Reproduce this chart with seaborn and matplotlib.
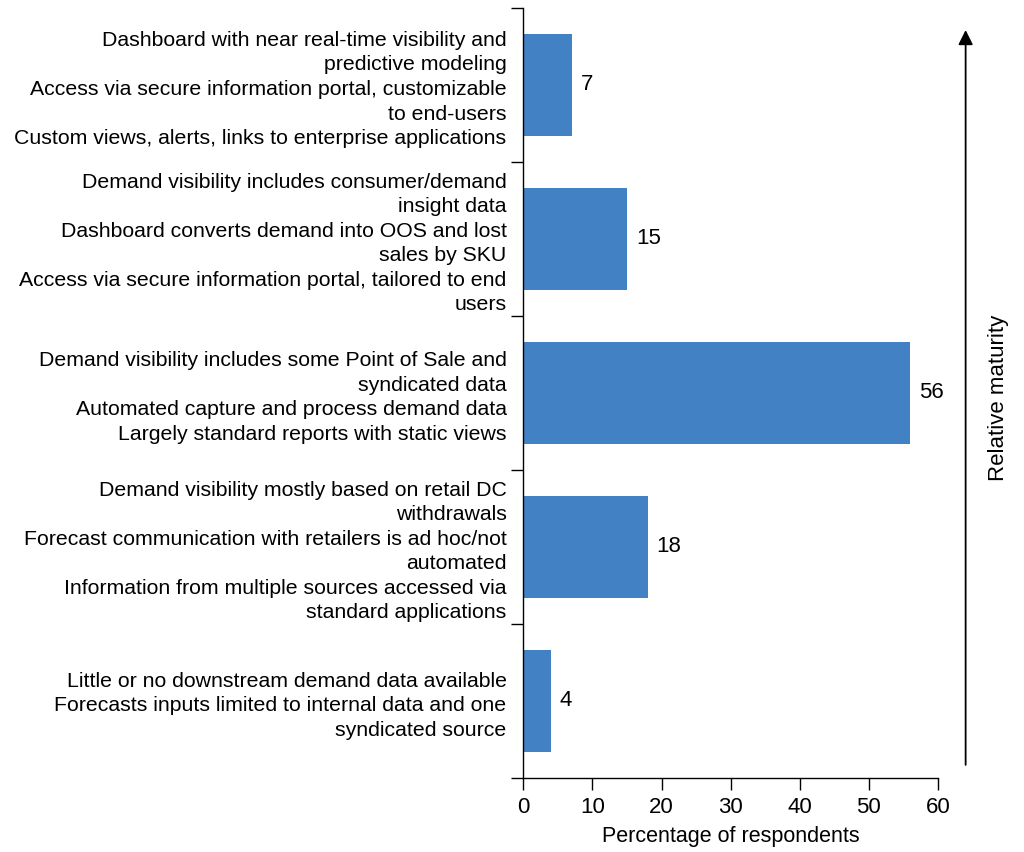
import matplotlib
matplotlib.use("Agg")
import matplotlib.pyplot as plt
import seaborn as sns
import pandas as pd

# data, top to bottom
categories = [
    "Dashboard with near real-time visibility and\npredictive modeling\n"
    "Access via secure information portal, customizable\nto end-users\n"
    "Custom views, alerts, links to enterprise applications",
    "Demand visibility includes consumer/demand\ninsight data\n"
    "Dashboard converts demand into OOS and lost\nsales by SKU\n"
    "Access via secure information portal, tailored to end\nusers",
    "Demand visibility includes some Point of Sale and\nsyndicated data\n"
    "Automated capture and process demand data\n"
    "Largely standard reports with static views",
    "Demand visibility mostly based on retail DC\nwithdrawals\n"
    "Forecast communication with retailers is ad hoc/not\nautomated\n"
    "Information from multiple sources accessed via\nstandard applications",
    "Little or no downstream demand data available\n"
    "Forecasts inputs limited to internal data and one\nsyndicated source",
]
values = [7, 15, 56, 18, 4]
xticks = [0, 10, 20, 30, 40, 50, 60]

df = pd.DataFrame({"category": categories, "value": values})

sns.set_theme(style="ticks")
plt.rcParams["font.family"] = ["Liberation Sans", "DejaVu Sans"]
plt.rcParams["text.color"] = "black"
plt.rcParams["axes.labelcolor"] = "black"
plt.rcParams["xtick.color"] = "black"
plt.rcParams["ytick.color"] = "black"
fs = 15.3
fs_ax = 16

fig = plt.figure(figsize=(10.24, 8.52), dpi=100)
ax = fig.add_axes([0.511, 0.087, 0.405, 0.904])

sns.barplot(data=df, x="value", y="category", color="#4181C4", saturation=1,
            width=0.66, linewidth=0, ax=ax)

for i, v in enumerate(values):
    ax.text(v + 1.3, i, str(v), va="center", ha="left", fontsize=fs_ax)

ax.set_xlim(0, 60)
ax.set_xticks(xticks)
ax.set_xlabel("Percentage of respondents", fontsize=15.5, labelpad=6)
ax.set_ylabel("")
ax.tick_params(axis="x", labelsize=fs_ax, length=8.5, width=1, pad=5)

# category labels, ticks at the boundaries
ax.set_yticks(range(len(categories)))
ax.set_yticklabels(categories, fontsize=fs, linespacing=1.37, ha="right")
ax.tick_params(axis="y", which="major", length=0, pad=12)
ax.set_yticks([i - 0.5 for i in range(len(categories) + 1)], minor=True)
ax.tick_params(axis="y", which="minor", length=9, width=1)
ax.set_ylim(len(categories) - 0.5, -0.5)

sns.despine(ax=ax)
for s in ["left", "bottom"]:
    ax.spines[s].set_color("black")
    ax.spines[s].set_linewidth(1)

# maturity arrow
fig.add_artist(matplotlib.patches.FancyArrowPatch(
    (0.943, 0.099), (0.943, 0.968), transform=fig.transFigure,
    arrowstyle="-|>", mutation_scale=22, lw=1.3, color="black"))
fig.text(0.975, 0.533, "Relative maturity", rotation=90, ha="center",
         va="center", fontsize=fs_ax)

fig.savefig("out.png", dpi=100)
